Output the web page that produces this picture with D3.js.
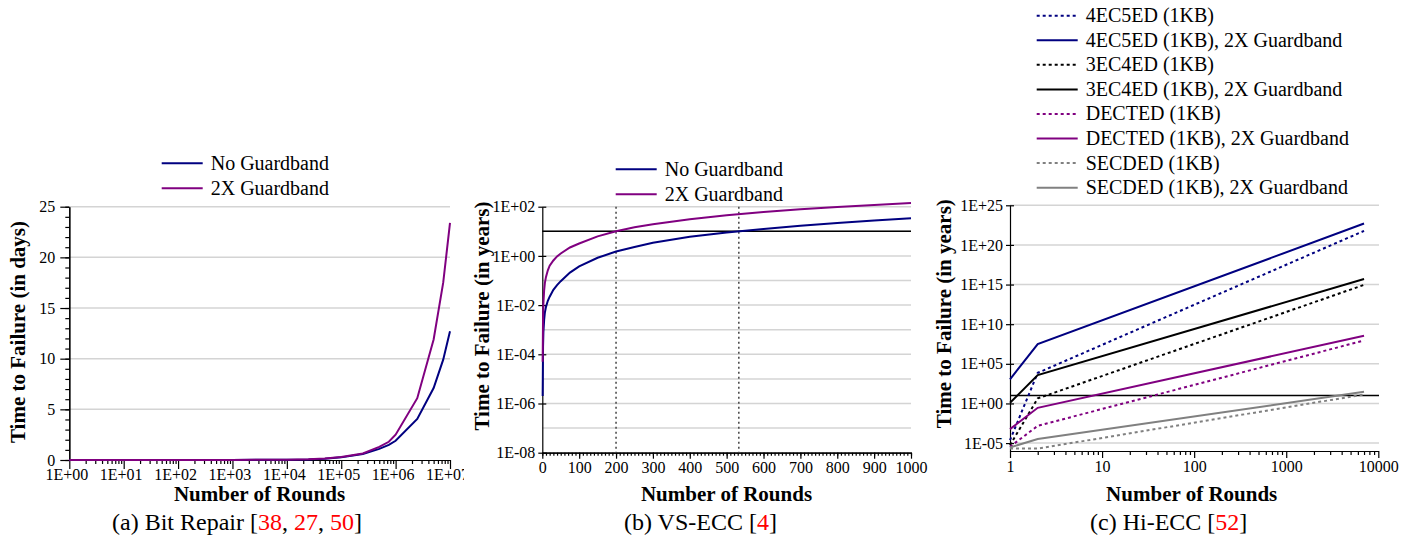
<!DOCTYPE html>
<html>
<head>
<meta charset="utf-8">
<script src="https://cdn.jsdelivr.net/npm/d3@7"></script>
<style>
body { margin: 0; background: #fff; }
svg, svg text { font-family: "Liberation Serif", "Times New Roman", Times, "DejaVu Serif", serif; }
.grid { stroke: #d4d4d4; stroke-width: 1.5; }
.axis path, .axis line { stroke: #000; stroke-width: 1.2; }
.axis text { font-size: 16px; fill: #000; }
.title { font-weight: bold; font-size: 21px; }
.caption { font-size: 24px; }
.legend text { font-size: 20px; }
</style>
</head>
<body>
<script>
// (a) Bit Repair - time to failure in days
var bitRounds  = [1, 10, 100, 1e3, 1e4, 2.5e4, 5e4, 1e5, 2.5e5, 5e5, 7.5e5, 1e6, 2.5e6, 5e6, 7.5e6, 1e7];
var bitNoGuard = [0, 0, 0.001, 0.005, 0.03, 0.06, 0.12, 0.26, 0.6, 1.1, 1.5, 1.9, 4.05, 7.1, 9.9, 12.7];
var bitGuard2x = [0, 0, 0.001, 0.006, 0.035, 0.07, 0.14, 0.3, 0.65, 1.3, 1.8, 2.5, 6.1, 11.9, 17.5, 23.4];
var bitYTicks = [0, 5, 10, 15, 20, 25];

// (b) VS-ECC - time to failure in years
var vsRounds  = [1, 2, 3, 5, 7, 10, 15, 20, 30, 40, 50, 75, 100, 150, 200, 250, 300, 400, 500, 600, 700, 800, 900, 1000];
var vsNoGuard = [2e-6, 2e-4, 8e-4, 2.5e-3, 5e-3, 8.5e-3, 1.5e-2, 2.2e-2, 4.2e-2, 6.5e-2, 9.4e-2, 0.21, 0.375, 0.84, 1.5, 2.3, 3.4, 6.0, 8.9, 12.5, 16.8, 21.8, 27.5, 34];
var vsGuard2x = [5e-5, 3e-3, 1.2e-2, 4e-2, 8e-2, 0.14, 0.26, 0.4, 0.65, 0.95, 1.25, 2.2, 3.2, 6.2, 10, 14.5, 19.5, 31, 45, 61, 78, 97, 118, 142];
var vsCrossings = [200, 533];
var targetYears = 10;

// (c) Hi-ECC - time to failure in years
var hiRounds = [1, 2, 7000];
var hi4ec          = [2.3e-5, 7.2e3, 5.9e21];
var hi4ecGuard     = [1.1e3, 3.0e7, 5.0e22];
var hi3ec          = [5.5e-6, 4.3, 9.1e14];
var hi3ecGuard     = [1.2, 3.7e3, 5.1e15];
var hiDected       = [3.4e-6, 1.5e-3, 8.7e7];
var hiDectedGuard  = [5.8e-4, 0.28, 3.4e8];
var hiSecded       = [2.1e-6, 2.0e-6, 13.5];
var hiSecdedGuard  = [2.8e-6, 3.2e-5, 29];
var hiNames = ["4EC5ED (1KB)", "4EC5ED (1KB), 2X Guardband", "3EC4ED (1KB)", "3EC4ED (1KB), 2X Guardband",
               "DECTED (1KB)", "DECTED (1KB), 2X Guardband", "SECDED (1KB)", "SECDED (1KB), 2X Guardband"];

var navy = "#000080", purple = "#800080", gray = "#808080";
var serif = "'Liberation Serif', 'Times New Roman', Times, 'DejaVu Serif', serif";

var svg = d3.select("body").append("svg")
    .attr("width", 1416)
    .attr("height", 538)
    .attr("font-family", serif);

function sci(v) {
    var e = Math.round(Math.log10(v));
    return "1E" + (e < 0 ? "-" : "+") + String(Math.abs(e)).padStart(2, "0");
}

function minorLog(lo, hi) {
    var out = [];
    for (var p = lo; p < hi; p++)
        for (var k = 2; k < 10; k++) out.push(k * Math.pow(10, p));
    return out;
}

function axisG(tr) {
    return svg.append("g").attr("class", "axis").attr("transform", tr);
}

function fixFont(g) {
    g.attr("font-family", serif).attr("font-size", 16);
}

function drawLine(xs, ys, x, y, color, dashed) {
    var pts = xs.map(function (d, i) { return [d, ys[i]]; });
    svg.append("path")
        .datum(pts)
        .attr("fill", "none")
        .attr("stroke", color)
        .attr("stroke-width", 2)
        .attr("stroke-dasharray", dashed ? "3,3" : null)
        .attr("d", d3.line().x(function (d) { return x(d[0]); }).y(function (d) { return y(d[1]); }));
}

function legend(x0, y0, step, items) {
    var g = svg.append("g").attr("class", "legend");
    items.forEach(function (it, i) {
        var yy = y0 + i * step;
        g.append("line")
            .attr("x1", x0).attr("x2", x0 + 41)
            .attr("y1", yy).attr("y2", yy)
            .attr("stroke", it.color)
            .attr("stroke-width", 2)
            .attr("stroke-dasharray", it.dashed ? "3,3" : null);
        g.append("text")
            .attr("x", x0 + 49).attr("y", yy + 6.5)
            .text(it.name);
    });
}

function titles(yLabel, yCx, yBase, xCx, capCx, capText, refs) {
    svg.append("text")
        .attr("class", "title")
        .attr("text-anchor", "middle")
        .attr("transform", "rotate(-90)")
        .attr("x", -yCx)
        .attr("y", yBase)
        .text(yLabel);
    svg.append("text")
        .attr("class", "title")
        .attr("text-anchor", "middle")
        .attr("x", xCx)
        .attr("y", 501)
        .text("Number of Rounds");
    var cap = svg.append("text")
        .attr("class", "caption")
        .attr("text-anchor", "middle")
        .attr("x", capCx)
        .attr("y", 530);
    cap.append("tspan").text(capText + " [");
    refs.forEach(function (r, i) {
        if (i > 0) cap.append("tspan").text(", ");
        cap.append("tspan").attr("fill", "#ff0000").text(r);
    });
    cap.append("tspan").text("]");
}

// ---------- (a) Bit Repair ----------
var xa = d3.scaleLog().domain([1, 1e7]).range([69.3, 450]);
var ya = d3.scaleLinear().domain([0, 25]).range([460, 206.7]);

svg.append("g").selectAll("line")
    .data(bitYTicks.slice(1))
    .enter().append("line")
    .attr("class", "grid")
    .attr("x1", 69.3).attr("x2", 450)
    .attr("y1", function (d) { return ya(d); })
    .attr("y2", function (d) { return ya(d); });

axisG("translate(69.3,0)")
    .call(d3.axisLeft(ya).tickValues(d3.range(0, 26)).tickSize(4).tickSizeOuter(0).tickFormat(""));
axisG("translate(69.3,0)")
    .call(d3.axisLeft(ya).tickValues(bitYTicks).tickSize(9).tickSizeOuter(0).tickPadding(5))
    .call(fixFont);

svg.append("defs").append("clipPath").attr("id", "clipA")
    .append("rect").attr("x", 0).attr("y", 0).attr("width", 464).attr("height", 538);

axisG("translate(0,460)")
    .call(d3.axisBottom(xa).tickValues(minorLog(0, 7)).tickSize(4).tickSizeOuter(0).tickFormat(""));
axisG("translate(0,460)")
    .attr("clip-path", "url(#clipA)")
    .call(d3.axisBottom(xa).tickValues(d3.range(0, 8).map(function (p) { return Math.pow(10, p); }))
        .tickSize(9).tickSizeOuter(0).tickPadding(0).tickFormat(sci))
    .call(fixFont)
    .selectAll(".tick text").attr("x", -3);

drawLine(bitRounds, bitNoGuard, xa, ya, navy, false);
drawLine(bitRounds, bitGuard2x, xa, ya, purple, false);

legend(161.7, 163.3, 25, [
    { name: "No Guardband", color: navy },
    { name: "2X Guardband", color: purple }
]);
titles("Time to Failure (in days)", 332, 25, 259.5, 237, "(a) Bit Repair", ["38", "27", "50"]);

// ---------- (b) VS-ECC ----------
var xb = d3.scaleLinear().domain([0, 1000]).range([542.3, 911]);
var yb = d3.scaleLog().domain([1e-8, 1e2]).range([452.7, 206.7]);

svg.append("g").selectAll("line")
    .data(d3.range(-7, 3).map(function (p) { return Math.pow(10, p); }))
    .enter().append("line")
    .attr("class", "grid")
    .attr("x1", 542.3).attr("x2", 911)
    .attr("y1", function (d) { return yb(d); })
    .attr("y2", function (d) { return yb(d); });

axisG("translate(0,452.7)")
    .call(d3.axisBottom(xb).tickValues(d3.range(0, 1001, 10)).tickSize(3).tickSizeOuter(0).tickFormat(""));
axisG("translate(0,452.7)")
    .call(d3.axisBottom(xb).tickValues(d3.range(0, 1001, 100)).tickSize(6).tickSizeOuter(0).tickPadding(3).tickFormat(d3.format("d")))
    .call(fixFont)
    .attr("font-size", 15);
axisG("translate(542.3,0)")
    .call(d3.axisLeft(yb).tickValues([1e-8, 1e-6, 1e-4, 1e-2, 1, 1e2]).tickSize(4).tickSizeOuter(0).tickPadding(3).tickFormat(sci))
    .call(fixFont)
    .selectAll(".tick line").attr("x1", 4);

svg.append("line")
    .attr("x1", 542.3).attr("x2", 911)
    .attr("y1", yb(targetYears)).attr("y2", yb(targetYears))
    .attr("stroke", "#000").attr("stroke-width", 1.5);

svg.append("g").selectAll("line")
    .data(vsCrossings)
    .enter().append("line")
    .attr("x1", function (d) { return xb(d); })
    .attr("x2", function (d) { return xb(d); })
    .attr("y1", yb(1e2)).attr("y2", yb(1e-8))
    .attr("stroke", "#444").attr("stroke-width", 1.5)
    .attr("stroke-dasharray", "2,3");

drawLine(vsRounds, vsNoGuard, xb, yb, navy, false);
drawLine(vsRounds, vsGuard2x, xb, yb, purple, false);

legend(615.7, 169.3, 25, [
    { name: "No Guardband", color: navy },
    { name: "2X Guardband", color: purple }
]);
titles("Time to Failure (in years)", 316, 489, 726.5, 700.5, "(b) VS-ECC", ["4"]);

// ---------- (c) Hi-ECC ----------
var xc = d3.scaleLog().domain([1, 10000]).range([1010, 1378.3]);
var yc = d3.scaleLog().domain([1e-6, 1e25]).range([451, 205.3]);
var hiMajor = d3.range(-5, 26, 5).map(function (p) { return Math.pow(10, p); });

svg.append("g").selectAll("line")
    .data(hiMajor)
    .enter().append("line")
    .attr("class", "grid")
    .attr("x1", 1010).attr("x2", 1379)
    .attr("y1", function (d) { return yc(d); })
    .attr("y2", function (d) { return yc(d); });

axisG("translate(0,451)")
    .call(d3.axisBottom(xc).tickValues(minorLog(0, 4)).tickSize(4).tickSizeOuter(0).tickFormat(""));
axisG("translate(0,451)")
    .call(d3.axisBottom(xc).tickValues([1, 10, 100, 1000, 10000]).tickSize(7).tickSizeOuter(0).tickPadding(3).tickFormat(d3.format("d")))
    .call(fixFont);
axisG("translate(1010,0)")
    .call(d3.axisLeft(yc).tickValues(hiMajor).tickSize(4).tickSizeOuter(0).tickPadding(3).tickFormat(sci))
    .call(fixFont)
    .selectAll(".tick line").attr("x1", 4);

svg.append("line")
    .attr("x1", 1010).attr("x2", 1379)
    .attr("y1", yc(targetYears)).attr("y2", yc(targetYears))
    .attr("stroke", "#000").attr("stroke-width", 1.5);

var hiSeries = [hi4ec, hi4ecGuard, hi3ec, hi3ecGuard, hiDected, hiDectedGuard, hiSecded, hiSecdedGuard];
var hiColors = [navy, navy, "#000", "#000", purple, purple, gray, gray];
hiSeries.forEach(function (s, i) {
    drawLine(hiRounds, s, xc, yc, hiColors[i], i % 2 === 0);
});

legend(1036.7, 15.7, 24.57, hiNames.map(function (n, i) {
    return { name: n, color: hiColors[i], dashed: i % 2 === 0 };
}));
titles("Time to Failure (in years)", 313.7, 951, 1191.7, 1168.7, "(c) Hi-ECC", ["52"]);
</script>
</body>
</html>
